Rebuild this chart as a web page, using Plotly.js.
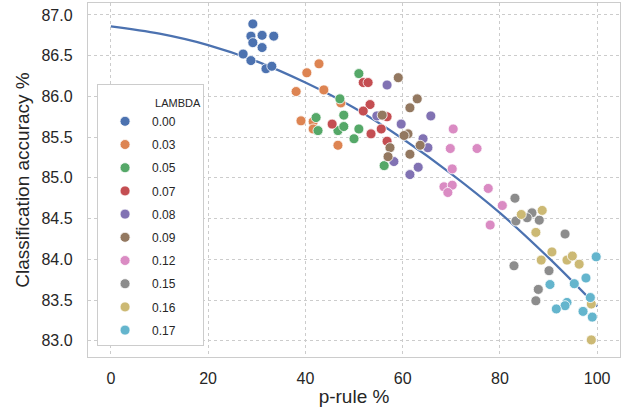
<!DOCTYPE html>
<html>
<head>
<meta charset="utf-8">
<script src="https://cdn.plot.ly/plotly-3.0.1.min.js"></script>
<style>html,body{margin:0;padding:0;background:#fff;}#chart{width:633px;height:416px;}</style>
</head>
<body>
<div id="chart"></div>
<script>
const lambdas = ["0.00","0.03","0.05","0.07","0.08","0.09","0.12","0.15","0.16","0.17"];
const colors = ["#4c72b0","#dd8452","#55a868","#c44e52","#8172b3","#937860","#da8bc3","#8c8c8c","#ccb974","#64b5cd"];

const prule_000 = [29.2,28.8,31.1,33.5,29.2,31.1,27.2,28.8,31.9,33.1];
const acc_000   = [86.89,86.74,86.75,86.74,86.66,86.60,86.52,86.44,86.34,86.37];
const prule_003 = [42.8,40.3,38.1,43.8,47.3,39.1,41.6,41.6,46.7];
const acc_003   = [86.40,86.29,86.06,86.08,85.92,85.70,85.69,85.60,85.40];
const prule_005 = [51.0,47.1,47.9,42.2,42.6,46.7,47.9,51.0,50.0,56.2];
const acc_005   = [86.28,85.97,85.77,85.74,85.58,85.58,85.63,85.60,85.48,85.15];
const prule_007 = [51.9,52.9,53.3,51.9,56.8,45.5,55.6,53.5,56.8];
const acc_007   = [86.17,86.17,85.90,85.82,85.75,85.66,85.60,85.54,85.45];
const prule_008 = [56.8,54.7,59.7,65.8,64.2,65.2,58.2,63.2,61.5];
const acc_008   = [86.14,85.76,85.66,85.76,85.48,85.37,85.20,85.13,85.04];
const prule_009 = [59.1,63.0,61.5,55.8,61.1,60.3,63.6,57.4,57.0,61.5];
const acc_009   = [86.23,85.97,85.86,85.77,85.54,85.52,85.40,85.37,85.26,85.29];
const prule_012 = [70.4,69.8,75.3,70.2,68.5,70.2,69.3,77.6,80.5,78.0];
const acc_012   = [85.60,85.36,85.36,85.11,84.89,84.91,84.82,84.87,84.66,84.42];
const prule_015 = [83.1,86.6,85.6,88.1,83.3,93.4,82.9,90.1,87.9,87.4];
const acc_015   = [84.75,84.57,84.51,84.48,84.47,84.31,83.92,83.86,83.63,83.49];
const prule_016 = [84.4,88.7,87.4,90.7,88.5,93.8,94.9,96.3,98.8,98.8];
const acc_016   = [84.55,84.60,84.33,84.09,83.99,83.99,84.04,83.94,83.45,83.01];
const prule_017 = [99.8,97.7,90.3,95.3,98.6,93.8,93.4,91.6,97.1,99.0];
const acc_017   = [84.03,83.77,83.69,83.70,83.53,83.47,83.43,83.39,83.36,83.29];

const fit_x = [0,10,20,30,40,50,60,70,80,90,100];
const fit_y = [86.86,86.77,86.63,86.43,86.17,85.86,85.48,85.05,84.57,84.02,83.42];

const xs = [prule_000,prule_003,prule_005,prule_007,prule_008,prule_009,prule_012,prule_015,prule_016,prule_017];
const ys = [acc_000,acc_003,acc_005,acc_007,acc_008,acc_009,acc_012,acc_015,acc_016,acc_017];

const traces = [{
  x: fit_x, y: fit_y, mode: 'lines', line: {color: '#4c72b0', width: 2.2, shape: 'spline'},
  showlegend: false, hoverinfo: 'skip'
}];
lambdas.forEach((l, i) => {
  traces.push({
    x: xs[i], y: ys[i], mode: 'markers', name: l, legendgroup: 'g' + i,
    marker: {color: colors[i], size: 10, line: {color: '#ffffff', width: 0.8}}
  });
});

const nb = '\u00a0'.repeat(18);
const gridStyle = {gridcolor: '#cccccc', griddash: 'dot', gridwidth: 1};
const layout = {
  width: 633, height: 416,
  margin: {l: 88, r: 13, t: 3, b: 59},
  paper_bgcolor: '#ffffff', plot_bgcolor: '#ffffff',
  font: {family: 'Liberation Sans, Arial, sans-serif', color: '#262626'},
  xaxis: Object.assign({
    range: [-4.7, 104.7], tickvals: [0,20,40,60,80,100], ticktext: ['0','20','40','60','80','100'],
    zeroline: false, showline: true, mirror: true, linecolor: '#cccccc', linewidth: 1.25,
    tickfont: {size: 16, color: '#262626'}, ticklabelstandoff: 7,
    title: {text: 'p-rule %', font: {size: 19, color: '#262626'}, standoff: 3}
  }, gridStyle),
  yaxis: Object.assign({
    range: [82.80, 87.147], tickvals: [83,83.5,84,84.5,85,85.5,86,86.5,87], tickformat: '.1f',
    zeroline: false, showline: true, mirror: true, linecolor: '#cccccc', linewidth: 1.25,
    tickfont: {size: 16, color: '#262626'}, ticklabelstandoff: 11,
    title: {text: 'Classification accuracy %', font: {size: 19, color: '#262626'}, standoff: 6}
  }, gridStyle),
  legend: {
    x: 0.017, y: 0.772, xanchor: 'left', yanchor: 'top',
    bgcolor: '#ffffff', bordercolor: '#cccccc', borderwidth: 1,
    font: {size: 12, color: '#262626'}, traceorder: 'grouped', tracegroupgap: 4.2,
    title: {text: '<span style="font-size:11px">' + nb + 'LAMBDA</span>', font: {size: 17, color: '#262626'}},
    itemwidth: 44
  },
  showlegend: true
};

Plotly.newPlot('chart', traces, layout, {staticPlot: true, displayModeBar: false});
</script>
</body>
</html>
